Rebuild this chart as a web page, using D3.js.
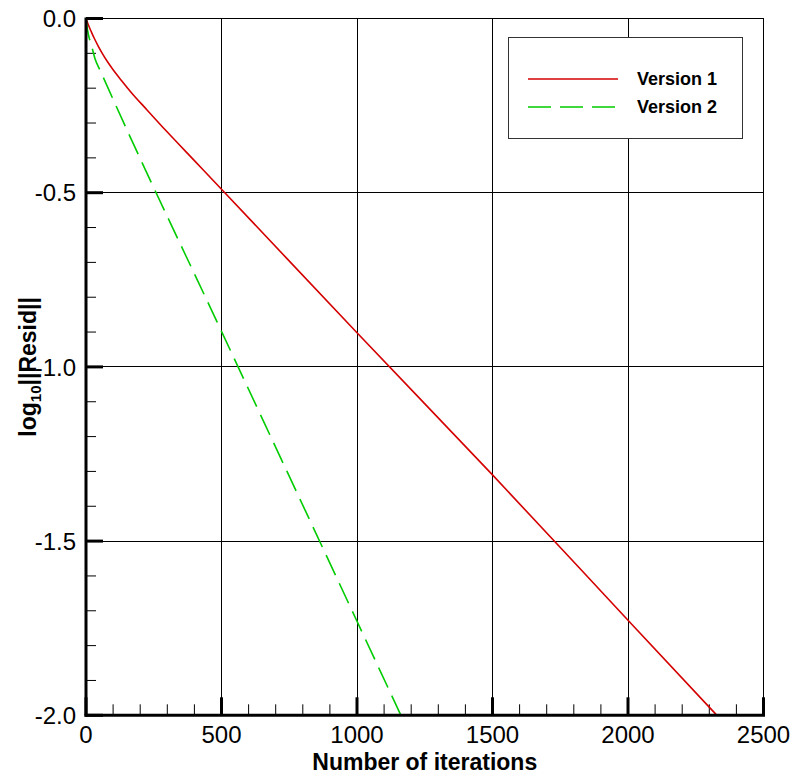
<!DOCTYPE html>
<html>
<head>
<meta charset="utf-8">
<script src="https://cdn.jsdelivr.net/npm/d3@7"></script>
<style>
  body { margin: 0; background: #fff; }
  text { font-family: "Liberation Sans", Arial, sans-serif; }
</style>
</head>
<body>
<div id="container"></div>
<script>
// values
var iters1 = [0, 10, 20, 30, 45, 60, 80, 100, 130, 170, 220, 300, 400, 500, 1000, 1500, 2000, 2328];
var resid1 = [0, -0.021, -0.039, -0.056, -0.079, -0.1, -0.125, -0.147, -0.177, -0.215, -0.258, -0.326, -0.408, -0.49, -0.902, -1.31, -1.727, -2.0];
var iters2 = [0, 3, 10, 21, 33, 54, 100, 500, 1000, 1162];
var resid2 = [0, -0.02, -0.05, -0.08, -0.115, -0.152, -0.232, -0.898, -1.73, -2.0];
var xTicks = [0, 500, 1000, 1500, 2000, 2500];
var yTicks = [0, -0.5, -1.0, -1.5, -2.0];
var seriesNames = ['Version 1', 'Version 2'];

var W = 795, H = 776;
// plot box (note: "top" is taken by window.top)
var pLeft = 86, pRight = 763.5, pTop = 18.5, pBottom = 715.3;

var svg = d3.select('#container').append('svg')
    .attr('width', W)
    .attr('height', H)
    .style('display', 'block');

var x = d3.scaleLinear().domain([0, 2500]).range([pLeft, pRight]);
var y = d3.scaleLinear().domain([-2, 0]).range([pBottom, pTop]);

var xMinor = d3.range(0, 2501, 100).filter(d => d % 500 !== 0);
var yMinor = d3.range(-20, 1).map(d => d / 10).filter(d => Math.round(d * 10) % 5 !== 0);

// grid
var grid = svg.append('g').attr('stroke', '#000').attr('stroke-width', 1).attr('shape-rendering', 'crispEdges');
grid.selectAll('.gx').data(xTicks.slice(1)).enter().append('line')
    .attr('x1', d => x(d)).attr('x2', d => x(d))
    .attr('y1', pTop).attr('y2', pBottom);
grid.selectAll('.gy').data(yTicks.slice(0, -1)).enter().append('line')
    .attr('x1', pLeft).attr('x2', pRight)
    .attr('y1', d => y(d)).attr('y2', d => y(d));

// minor ticks
var ticks = svg.append('g').attr('stroke', '#000');
ticks.selectAll('.mx').data(xMinor).enter().append('line')
    .attr('stroke-width', 1)
    .attr('x1', d => x(d)).attr('x2', d => x(d))
    .attr('y1', pBottom).attr('y2', pBottom - 11);
ticks.selectAll('.my').data(yMinor).enter().append('line')
    .attr('stroke-width', 1)
    .attr('x1', pLeft).attr('x2', pLeft + 10)
    .attr('y1', d => y(d)).attr('y2', d => y(d));
// major ticks
ticks.selectAll('.Mx').data(xTicks).enter().append('line')
    .attr('stroke-width', 3)
    .attr('x1', d => x(d)).attr('x2', d => x(d))
    .attr('y1', pBottom).attr('y2', pBottom - 18);
ticks.selectAll('.My').data(yTicks).enter().append('line')
    .attr('stroke-width', 3)
    .attr('x1', pLeft).attr('x2', pLeft + 17)
    .attr('y1', d => y(d)).attr('y2', d => y(d));

// curves
var line = d3.line()
    .x(d => x(d[0]))
    .y(d => y(d[1]))
    .curve(d3.curveMonotoneX);

var data1 = iters1.map((d, i) => [d, resid1[i]]);
var data2 = iters2.map((d, i) => [d, resid2[i]]);

svg.append('path').datum(data1)
    .attr('d', line)
    .attr('fill', 'none')
    .attr('stroke', '#d40000')
    .attr('stroke-width', 1.6);

svg.append('path').datum(data2)
    .attr('d', line)
    .attr('fill', 'none')
    .attr('stroke', '#00cc00')
    .attr('stroke-width', 1.6)
    .attr('stroke-dasharray', '22,9');

// axis lines
svg.append('line').attr('x1', pLeft).attr('x2', pLeft).attr('y1', pTop - 1).attr('y2', pBottom + 1.5)
    .attr('stroke', '#000').attr('stroke-width', 3);
svg.append('line').attr('x1', pLeft - 1.5).attr('x2', pRight + 1.5).attr('y1', pBottom).attr('y2', pBottom)
    .attr('stroke', '#000').attr('stroke-width', 3);

// tick labels
svg.selectAll('.xl').data(xTicks).enter().append('text')
    .attr('x', d => x(d))
    .attr('y', 743)
    .attr('text-anchor', 'middle')
    .attr('font-size', 24)
    .text(d => d);

svg.selectAll('.yl').data(yTicks).enter().append('text')
    .attr('x', 76)
    .attr('y', d => y(d))
    .attr('dy', '0.36em')
    .attr('text-anchor', 'end')
    .attr('font-size', 24)
    .text(d => d.toFixed(1));

// axis titles
svg.append('text')
    .attr('x', (pLeft + pRight) / 2)
    .attr('y', 770)
    .attr('text-anchor', 'middle')
    .attr('font-size', 23)
    .attr('font-weight', 'bold')
    .text('Number of iterations');

var yt = svg.append('text')
    .attr('transform', 'translate(36,' + ((pTop + pBottom) / 2) + ') rotate(-90)')
    .attr('text-anchor', 'middle')
    .attr('font-size', 23)
    .attr('font-weight', 'bold');
yt.append('tspan').text('log');
yt.append('tspan').attr('font-size', 15).attr('dy', 5).text('10');
yt.append('tspan').attr('dy', -5).text('||Resid||');

// legend
var legend = svg.append('g');
legend.append('rect')
    .attr('x', 508).attr('y', 37).attr('width', 234).attr('height', 101)
    .attr('fill', '#fff').attr('stroke', '#333').attr('stroke-width', 1)
    .attr('shape-rendering', 'crispEdges');

var legendRows = legend.selectAll('.row').data(seriesNames).enter().append('g')
    .attr('transform', (d, i) => 'translate(0,' + (79 + i * 28) + ')');
legendRows.append('line')
    .attr('x1', 528).attr('x2', 618)
    .attr('stroke', (d, i) => i === 0 ? '#d40000' : '#00cc00')
    .attr('stroke-width', 1.6)
    .attr('stroke-dasharray', (d, i) => i === 0 ? null : '23,9');
legendRows.append('text')
    .attr('x', 637)
    .attr('dy', '0.36em')
    .attr('font-size', 18)
    .attr('font-weight', 'bold')
    .text(d => d);
</script>
</body>
</html>
